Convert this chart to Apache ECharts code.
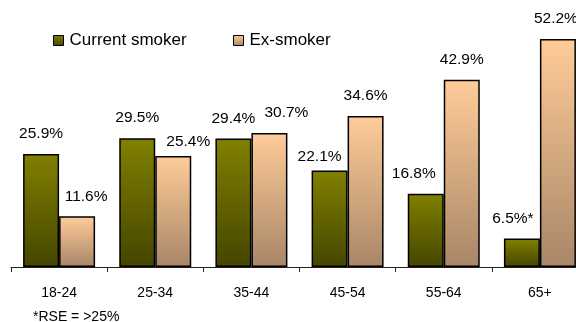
<!DOCTYPE html>
<html><head><meta charset="utf-8">
<script src="https://cdn.jsdelivr.net/npm/echarts@6/dist/echarts.min.js"></script>
<style>html,body{margin:0;padding:0;background:#fff}#c{width:576px;height:322px}</style>
</head><body><div id="c"></div>
<script>
const categories = ['18-24','25-34','35-44','45-54','55-64','65+'];
const currentSmoker = [25.9, 29.5, 29.4, 22.1, 16.8, 6.5];
const exSmoker = [11.6, 25.4, 30.7, 34.6, 42.9, 52.2];
const currentLabels = ['25.9%','29.5%','29.4%','22.1%','16.8%','6.5%*'];
const exLabels = ['11.6%','25.4%','30.7%','34.6%','42.9%','52.2%'];
const currentOffsets = [[0,0],[0,0],[0,0],[-10,6],[-12,0],[-9,0]];
const exOffsets = [[9,0],[15,6],[17,0],[0,0],[0,0],[-2,0]];

const FONT = 'Liberation Sans, Arial, sans-serif';
const grad = (a, b) => new echarts.graphic.LinearGradient(0, 0, 0, 1, [{offset:0,color:a},{offset:1,color:b}]);

function mk(vals, labels, offs) {
  return vals.map((v, i) => ({
    value: v,
    label: { offset: offs[i], formatter: labels[i] }
  }));
}

const legendBase = { icon: 'rect', itemWidth: 10, itemHeight: 10, padding: 0, itemGap: 6,
  itemStyle: { borderColor: '#000', borderWidth: 1 },
  textStyle: { fontFamily: FONT, fontSize: 17, color: '#000', padding: [0,0,0,1] } };

const chart = echarts.init(document.getElementById('c'));
chart.setOption({
  animation: false,
  grid: { left: 11, top: 5, width: 577, height: 262, containLabel: false, outerBoundsMode: 'none' },
  legend: [
    Object.assign({ data: ['Current smoker'], left: 53, top: 32 }, legendBase),
    Object.assign({ data: ['Ex-smoker'], left: 233, top: 32 }, legendBase)
  ],
  xAxis: {
    type: 'category', data: categories,
    axisLine: { lineStyle: { color: '#222', width: 1 } },
    axisTick: { show: true, length: 5, lineStyle: { color: '#222' } },
    axisLabel: { fontFamily: FONT, fontSize: 14, color: '#000', margin: 19 }
  },
  yAxis: { type: 'value', min: 0, max: 60, show: false, splitLine: { show: false } },
  series: [
    { name: 'Current smoker', type: 'bar', barWidth: 36, barGap: '0%',
      data: mk(currentSmoker, currentLabels, currentOffsets),
      itemStyle: { color: grad('#808000', '#454500'), borderColor: '#000', borderWidth: 1.5 },
      label: { show: true, position: 'top', distance: 12, fontFamily: FONT, fontSize: 15.5, color: '#000' } },
    { name: 'Ex-smoker', type: 'bar', barWidth: 36, barGap: '0%',
      data: mk(exSmoker, exLabels, exOffsets),
      itemStyle: { color: grad('#FFCC99', '#A88667'), borderColor: '#000', borderWidth: 1.5 },
      label: { show: true, position: 'top', distance: 12, fontFamily: FONT, fontSize: 15.5, color: '#000' } }
  ],
  graphic: [
    { type: 'text', left: 33, top: 310, style: { text: '*RSE = >25%', fontFamily: FONT, fontSize: 14, fill: '#000' } }
  ]
});
</script>
</body></html>
